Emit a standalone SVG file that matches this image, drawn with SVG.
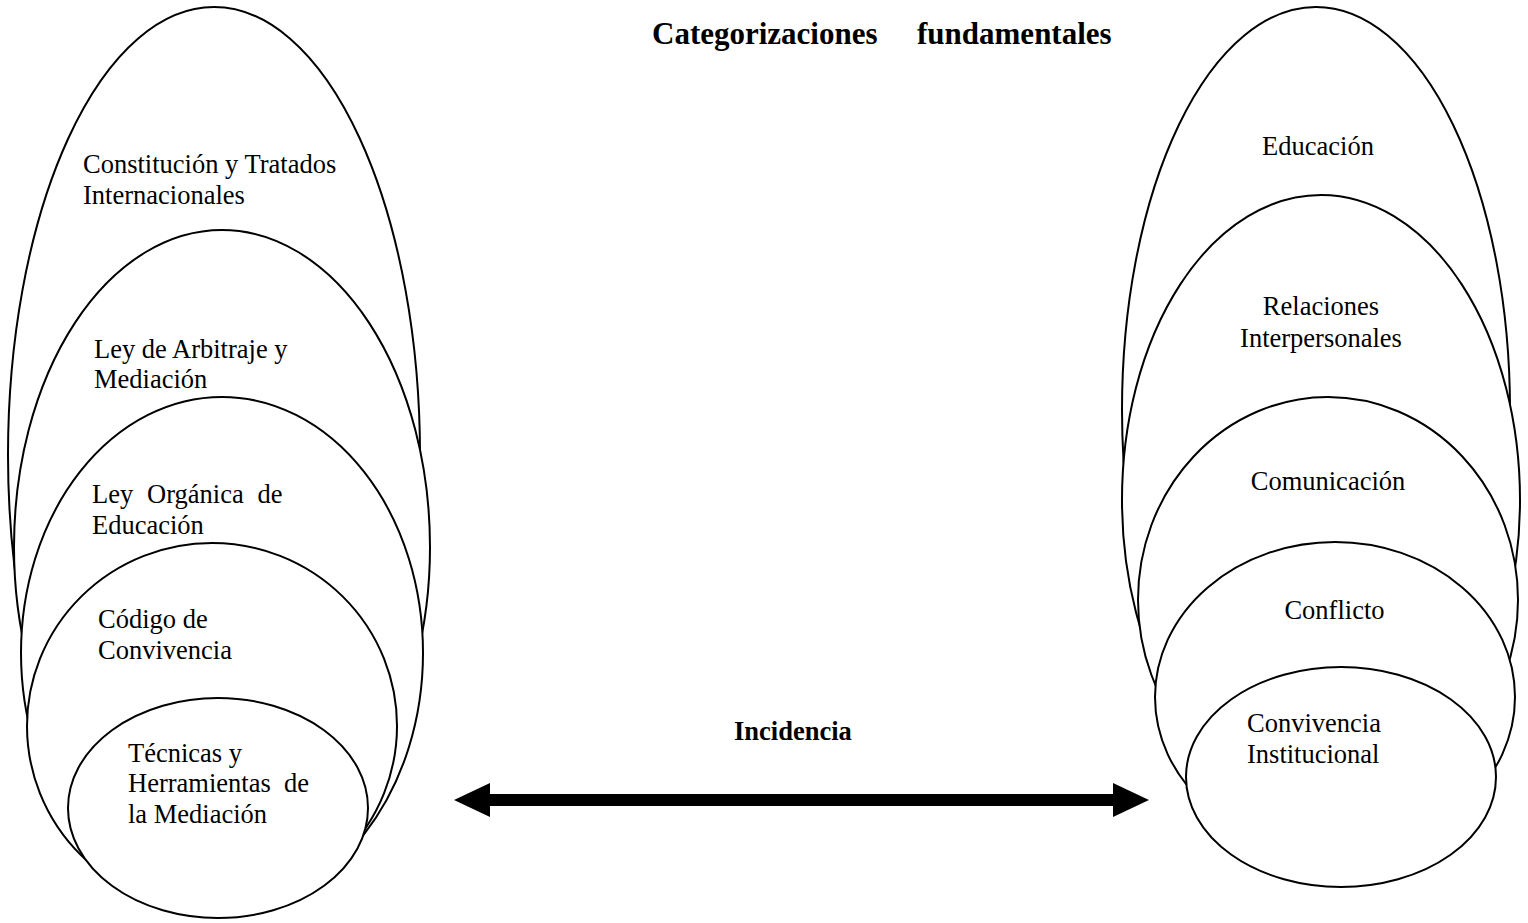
<svg xmlns="http://www.w3.org/2000/svg" width="1528" height="923" viewBox="0 0 1528 923">
<defs>
<style>
.el{fill:#fff;stroke:#000;stroke-width:2}
.t{font-family:"Liberation Serif","Times New Roman",serif;font-size:26.5px;fill:#000}
.tm{text-anchor:middle}
.b{font-family:"Liberation Serif","Times New Roman",serif;font-weight:bold;fill:#000}
.arrow{stroke:#000;stroke-width:12;fill:none}
</style>
<marker id="head" viewBox="0 0 36 34" refX="0" refY="17" markerWidth="36" markerHeight="34" markerUnits="userSpaceOnUse" orient="auto-start-reverse">
<path d="M0,0 L36,17 L0,34 Z" fill="#000"/>
</marker>
</defs>
<rect width="1528" height="923" fill="#fff"/>
<text class="b" font-size="31" y="43.5"><tspan x="652">Categorizaciones</tspan><tspan x="917">fundamentales</tspan></text>

<g id="left-constitucion">
<ellipse class="el" cx="214" cy="455" rx="206" ry="448"/>
<text class="t" x="83" y="172.5">Constitución y Tratados</text>
<text class="t" x="83" y="204">Internacionales</text>
</g>
<g id="left-ley-arbitraje">
<ellipse class="el" cx="222" cy="547" rx="208" ry="317"/>
<text class="t" x="94" y="358">Ley de Arbitraje y</text>
<text class="t" x="94" y="388">Mediación</text>
</g>
<g id="left-ley-organica">
<ellipse class="el" cx="222" cy="653" rx="201" ry="256"/>
<text class="t" x="92" y="503" word-spacing="7.2">Ley Orgánica de</text>
<text class="t" x="92" y="534">Educación</text>
</g>
<g id="left-codigo">
<ellipse class="el" cx="212" cy="726" rx="185" ry="183"/>
<text class="t" x="98" y="628">Código de</text>
<text class="t" x="98" y="659">Convivencia</text>
</g>
<g id="left-tecnicas">
<ellipse class="el" cx="218" cy="808" rx="150" ry="110"/>
<text class="t" x="128" y="762">Técnicas y</text>
<text class="t" x="128" y="792" word-spacing="6.6">Herramientas de</text>
<text class="t" x="128" y="823">la Mediación</text>
</g>

<g id="right-educacion">
<ellipse class="el" cx="1316" cy="410" rx="194" ry="403"/>
<text class="t tm" x="1318" y="155">Educación</text>
</g>
<g id="right-relaciones">
<ellipse class="el" cx="1321" cy="500" rx="199" ry="305"/>
<text class="t tm" x="1321" y="315">Relaciones</text>
<text class="t tm" x="1321" y="347">Interpersonales</text>
</g>
<g id="right-comunicacion">
<ellipse class="el" cx="1328" cy="600" rx="190" ry="203"/>
<text class="t tm" x="1328" y="490">Comunicación</text>
</g>
<g id="right-conflicto">
<ellipse class="el" cx="1335" cy="697" rx="180" ry="155"/>
<text class="t tm" x="1334.5" y="619">Conflicto</text>
</g>
<g id="right-convivencia">
<ellipse class="el" cx="1341" cy="777" rx="155" ry="110"/>
<text class="t" x="1247" y="732">Convivencia</text>
<text class="t" x="1247" y="763">Institucional</text>
</g>

<g id="connectors">
<line class="arrow" x1="490" y1="800" x2="1113" y2="800" marker-start="url(#head)" marker-end="url(#head)"/>
<text class="b" font-size="26.5" x="734" y="740">Incidencia</text>
</g>
</svg>
